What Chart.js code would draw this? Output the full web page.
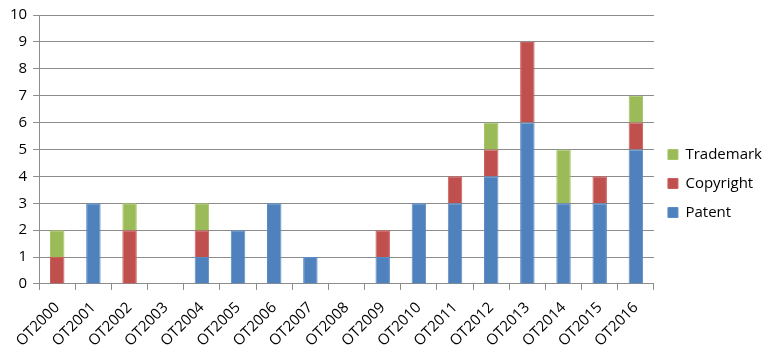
<!DOCTYPE html>
<html>
<head>
<meta charset="utf-8">
<script src="https://cdn.jsdelivr.net/npm/chart.js@4/dist/chart.umd.min.js"></script>
<style>
  html, body { margin: 0; padding: 0; background: #fff; }
  #wrap { width: 776px; height: 359px; }
</style>
</head>
<body>
<div id="wrap"><canvas id="chart"></canvas></div>
<script>
  // Terms (categories)
  const terms = ['OT2000', 'OT2001', 'OT2002', 'OT2003', 'OT2004', 'OT2005', 'OT2006', 'OT2007', 'OT2008',
                 'OT2009', 'OT2010', 'OT2011', 'OT2012', 'OT2013', 'OT2014', 'OT2015', 'OT2016'];
  // Case counts per term
  const patent    = [0, 3, 0, 0, 1, 2, 3, 1, 0, 1, 3, 3, 4, 6, 3, 3, 5];
  const copyright = [1, 0, 2, 0, 1, 0, 0, 0, 0, 1, 0, 1, 1, 3, 0, 1, 1];
  const trademark = [1, 0, 1, 0, 1, 0, 0, 0, 0, 0, 0, 0, 1, 0, 2, 0, 1];
  const yTicks = [0, 1, 2, 3, 4, 5, 6, 7, 8, 9, 10];

  const font = { family: 'Open Sans, Liberation Sans, sans-serif', size: 15 };
  const gridGrey = '#8c8c8c';

  const ds = (label, data, color, edge) => ({
    label, data, backgroundColor: color, borderColor: edge, borderWidth: 1,
    barPercentage: 0.4, categoryPercentage: 1
  });

  new Chart(document.getElementById('chart'), {
    type: 'bar',
    data: {
      labels: terms,
      datasets: [
        ds('Patent', patent, '#4f81bd', '#5b8cc6'),
        ds('Copyright', copyright, '#c0504d', '#cc5e5b'),
        ds('Trademark', trademark, '#9bbb59', '#a6c565')
      ]
    },
    options: {
      responsive: true,
      maintainAspectRatio: false,
      animation: false,
      layout: { padding: { top: 8, right: 4, left: 4, bottom: 0 } },
      plugins: {
        tooltip: { enabled: false },
        legend: {
          position: 'right',
          reverse: true,
          labels: { font, color: '#000', boxWidth: 10, boxHeight: 10, padding: 14 }
        }
      },
      scales: {
        x: {
          stacked: true,
          grid: { display: true, drawOnChartArea: false, drawTicks: true, offset: true, color: gridGrey, tickLength: 6 },
          border: { color: gridGrey },
          ticks: { font, color: '#000', maxRotation: 45, minRotation: 45, autoSkip: false, padding: 9 }
        },
        y: {
          stacked: true,
          min: 0, max: 10,
          afterBuildTicks: (axis) => { axis.ticks = yTicks.map(v => ({ value: v })); },
          grid: { color: gridGrey, tickLength: 6 },
          border: { color: gridGrey },
          ticks: { font, color: '#000', padding: 6 }
        }
      }
    }
  });
</script>
</body>
</html>
